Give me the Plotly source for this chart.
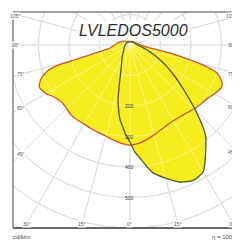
import numpy as np
import plotly.graph_objects as go

# ---- data (angle from nadir in degrees, positive = left half; intensity cd/klm)
red_angles = [-180, -150, -120, -100, -90, -85, -81.5, -78.7, -76, -74, -72.5, -70, -67.5, -65, -60, -55, -50,
              -45, -40, -35, -30, -25, -20, -15, -10, -5, 0, 5, 10, 15, 20, 25, 30, 35, 40, 45, 50, 55,
              60, 65, 67.5, 70, 72.5, 74, 75, 76, 78, 80, 85, 90, 100, 120, 150, 180]
red_values = [12, 14, 18, 25, 35, 48, 68, 135, 205, 265, 295, 315, 327, 331, 320, 308, 302,
              297, 290, 287, 286, 289, 296, 305, 315, 324, 328, 324, 316, 309, 305, 302, 300, 300, 300, 294, 292, 300,
              318, 328, 320, 307, 285, 255, 190, 140, 95, 72, 58, 50, 40, 25, 15, 12]

green_angles = [-180, -150, -120, -90, -80, -75, -70, -65, -60, -55, -50, -45, -40, -35, -30, -25, -20, -15,
                -10, -5, -2.5, 0, 3, 5, 7.5, 10, 12.5, 15, 17.5, 20, 25, 30, 40, 50, 70, 90, 120, 150, 180]
green_values = [10, 12, 15, 25, 40, 54, 74, 102, 137, 180, 232, 305, 385, 432, 480, 490, 478, 452,
                424, 372, 350, 318, 292, 270, 248, 215, 180, 135, 105, 86, 65, 53, 36, 27, 20, 16, 13, 11, 10]

grid_radii = [100, 200, 300, 400, 500, 600, 700]
radial_labels = [200, 300, 400, 500]
left_ticks = [105, 90, 75, 60, 45]
bottom_ticks = [30, 15, 0, -15, -30]
right_ticks = [-45, -60, -75, -90, -105]

title_text = "LVLEDOS5000"
unit_text = "cd/klm"
eff_text = "η = 100%"

YELLOW = "#F7EC1E"
RED = "#C9582A"
GREEN = "#4A5632"


def to_xy(angles, values):
    a = np.radians(np.asarray(angles, dtype=float))
    r = np.asarray(values, dtype=float)
    return -r * np.sin(a), -r * np.cos(a)


# axis ranges chosen so that 100 cd/klm = 30.5 px and the pole sits at (130, 45) px on the page
X0, X1 = -383.6, 360.7
Y0, Y1 = -600.0, 108.2

fig = go.Figure()


def add_grid(color):
    for r in grid_radii:
        t = np.linspace(0, 2 * np.pi, 361)
        fig.add_trace(go.Scatter(x=r * np.cos(t), y=r * np.sin(t), mode="lines",
                                 line=dict(color=color, width=1), hoverinfo="skip", showlegend=False))
    for ang in range(0, 360, 15):
        a = np.radians(ang)
        fig.add_trace(go.Scatter(x=[0, 900 * np.sin(a)], y=[0, -900 * np.cos(a)], mode="lines",
                                 line=dict(color=color, width=1), hoverinfo="skip", showlegend=False))


add_grid("#C2C2C2")

rx, ry = to_xy(red_angles, red_values)
gx, gy = to_xy(green_angles, green_values)

for xx, yy in [(rx, ry), (gx, gy)]:
    fig.add_trace(go.Scatter(x=xx, y=yy, mode="lines", fill="toself", fillcolor=YELLOW,
                             line=dict(color=YELLOW, width=0.5, shape="spline", smoothing=0.6),
                             hoverinfo="skip", showlegend=False))

add_grid("rgba(255,255,255,0.45)")

fig.add_trace(go.Scatter(x=rx, y=ry, mode="lines", line=dict(color=RED, width=1.3, shape="spline", smoothing=0.6),
                         hoverinfo="skip", showlegend=False))
fig.add_trace(go.Scatter(x=gx, y=gy, mode="lines", line=dict(color=GREEN, width=1.3, shape="spline", smoothing=0.6),
                         hoverinfo="skip", showlegend=False))

annotations = []
lab_font = dict(family="Liberation Sans", size=5, color="#555555")
# inset rectangle for angle labels
XL, XR, YB = -357.0, 352.0, -587.0


def ray_hit(ang):
    a = np.radians(ang)
    dx, dy = -np.sin(a), -np.cos(a)
    ts = []
    if dx < -1e-9:
        ts.append(XL / dx)
    if dx > 1e-9:
        ts.append(XR / dx)
    if dy < -1e-9:
        ts.append(YB / dy)
    t = min(ts)
    return t * dx, t * dy, (abs(XR / dx) if dx > 1e-9 else 1e9) <= (YB / dy if dy < -1e-9 else 1e9)


for ang in left_ticks + bottom_ticks + right_ticks:
    x, y, on_right = ray_hit(ang)
    annotations.append(dict(x=x, y=y, xref="x", yref="y", text=f"{abs(ang)}°", showarrow=False,
                            xanchor="right" if (on_right or x > 340) else "center",
                            font=lab_font, bgcolor="white", borderpad=0))

for r in radial_labels:
    annotations.append(dict(x=0, y=-r, xref="x", yref="y", text=str(r), showarrow=False,
                            font=dict(family="Liberation Sans", size=5, color="#333333"), borderpad=0))

annotations.append(dict(x=10, y=49, xref="x", yref="y", text=f"<i>{title_text}</i>", showarrow=False,
                        font=dict(family="Liberation Sans", size=16, color="#2b2b2b"),
                        bgcolor="white", borderpad=1))
annotations.append(dict(x=-0.01, y=-0.02, xref="paper", yref="paper", text=unit_text, showarrow=False,
                        xanchor="left", yanchor="top", font=dict(family="Liberation Sans", size=6, color="#444444")))
annotations.append(dict(x=1.0, y=-0.02, xref="paper", yref="paper", text=eff_text, showarrow=False,
                        xanchor="right", yanchor="top", font=dict(family="Liberation Sans", size=6, color="#444444")))

shapes = [
    dict(type="line", xref="paper", yref="paper", x0=0, x1=0, y0=0, y1=1, line=dict(color="#444444", width=1)),
    dict(type="line", xref="paper", yref="paper", x0=0, x1=1.05, y0=1, y1=1, line=dict(color="#444444", width=1)),
    dict(type="line", xref="paper", yref="paper", x0=0, x1=1.05, y0=0, y1=0, line=dict(color="#333333", width=1.5)),
]

# the page body has an 8 px default margin, so the figure is 232 px and offset accordingly
fig.update_layout(
    width=232, height=232,
    margin=dict(l=5, r=0, t=4, b=12),
    paper_bgcolor="white", plot_bgcolor="white",
    xaxis=dict(range=[X0, X1], visible=False, fixedrange=True),
    yaxis=dict(range=[Y0, Y1], visible=False, fixedrange=True),
    annotations=annotations, shapes=shapes, showlegend=False,
)

fig.write_html("out.html")
